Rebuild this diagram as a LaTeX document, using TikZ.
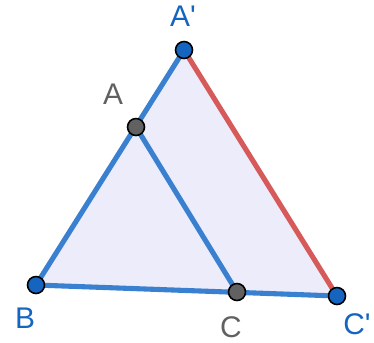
\documentclass[tikz,border=0pt]{standalone}
\usepackage{fontspec}
\setmainfont{Liberation Sans}
\usetikzlibrary{positioning}
\definecolor{segblue}{RGB}{58,128,208}
\definecolor{segred}{RGB}{214,90,90}
\definecolor{ptblue}{RGB}{21,101,192}
\definecolor{ptgray}{RGB}{97,97,97}
\definecolor{trifill}{RGB}{236,236,250}

\begin{document}
\begin{tikzpicture}[
    x=0.02cm, y=-0.02cm,
    seg/.style={line width=2.9pt, color=segblue},
    redseg/.style={line width=2.9pt, color=segred},
    point/.style={circle, draw=black, line width=0.9pt, minimum size=0.34cm, inner sep=0pt},
    lbl/.style={font=\fontsize{17}{17}\selectfont, inner sep=0pt}
]
\useasboundingbox (0,0) rectangle (374,342);

% Points
\coordinate (ap) at (184,50);
\coordinate (b) at (36,285);
\coordinate (cp) at (337,296);
\coordinate (a) at (136,127);
\coordinate (c) at (237,292);

% Triangle
\fill[trifill] (ap) -- (b) -- (cp) -- cycle;
\draw[seg, line cap=round] (ap) -- (b) -- (cp);
\draw[redseg] (ap) -- (cp);
\draw[seg] (a) -- (c);

% Dots
\node[point, fill=ptblue] (nap) at (ap) {};
\node[point, fill=ptblue] (nb) at (b) {};
\node[point, fill=ptblue] (ncp) at (cp) {};
\node[point, fill=ptgray] (na) at (a) {};
\node[point, fill=ptgray] (nc) at (c) {};

% Labels
\node[lbl, text=ptblue] at (183,16) {A\textquotesingle};
\node[lbl, text=ptgray] at (113,94) {A};
\node[lbl, text=ptblue] at (25,318) {B};
\node[lbl, text=ptgray] at (231,327) {C};
\node[lbl, text=ptblue] at (357,324) {C\textquotesingle};

\end{tikzpicture}
\end{document}
